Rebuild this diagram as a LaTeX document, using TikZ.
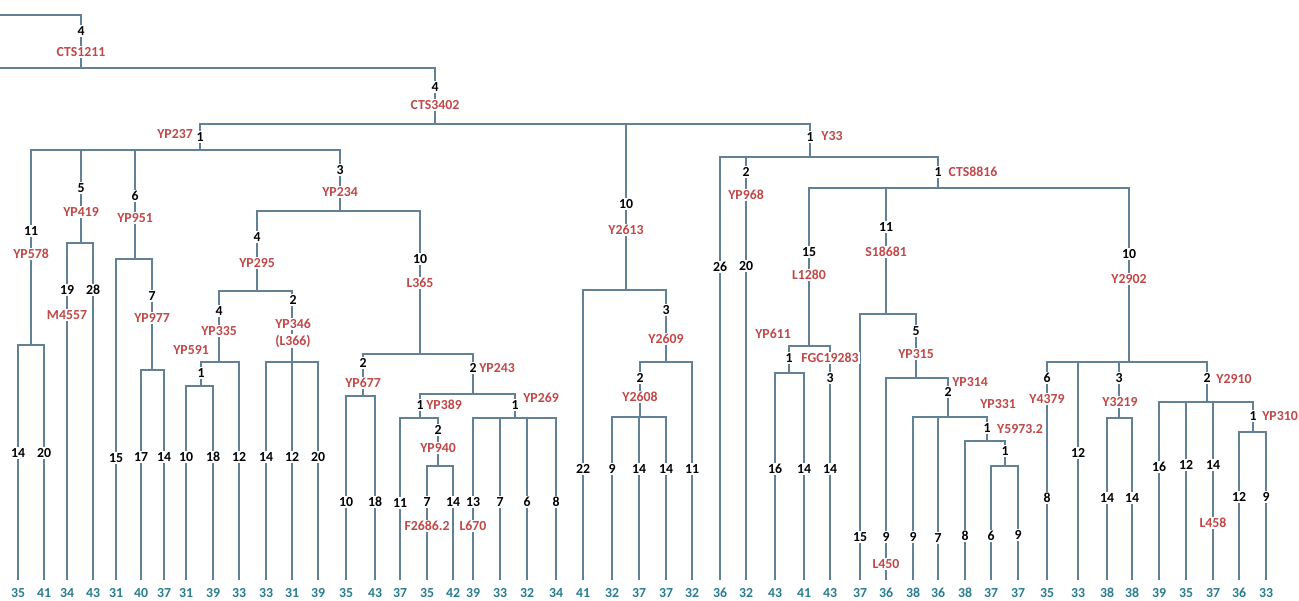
\documentclass[tikz,border=0pt]{standalone}
\usepackage{fontspec}
\setmainfont{Carlito}
\definecolor{branch}{RGB}{98,128,150}
\definecolor{snpred}{RGB}{192,72,72}
\definecolor{tipteal}{RGB}{40,125,145}
\begin{document}
\begin{tikzpicture}[x=1pt, y=-1pt, line width=1.5pt,
    num/.style={fill=white, inner sep=1.2pt, text=black, font=\bfseries\fontsize{13.8}{14}\selectfont},
    snp/.style={num, text=snpred},
    tip/.style={inner sep=0pt, text=tipteal, font=\bfseries\fontsize{13.8}{14}\selectfont}]
    \fill[white] (0,0) rectangle (1299,601);
    \useasboundingbox (0,0) rectangle (1299,601);
    % junctions
    \coordinate (top) at (0,15);
    \coordinate (cut) at (0,68);
    \coordinate (cts1211) at (81,68);
    \coordinate (cts3402) at (435,124);
    \coordinate (yp237) at (200,150);
    \coordinate (yp578) at (31,345);
    \coordinate (yp419) at (81,243);
    \coordinate (yp951) at (135,259);
    \coordinate (yp977) at (152,370);
    \coordinate (yp234) at (340,211);
    \coordinate (yp295) at (257,291);
    \coordinate (yp335) at (219,362);
    \coordinate (yp591) at (201,386);
    \coordinate (yp346) at (292,362);
    \coordinate (l365) at (420,354);
    \coordinate (yp677) at (363,396);
    \coordinate (yp243) at (473,394);
    \coordinate (yp389) at (420,418);
    \coordinate (yp940) at (438,466);
    \coordinate (yp269) at (515,418);
    \coordinate (y2613) at (626,290);
    \coordinate (y2609) at (666,362);
    \coordinate (y2608) at (640,417);
    \coordinate (y33) at (810,157);
    \coordinate (cts8816) at (938,188);
    \coordinate (l1280) at (809,346);
    \coordinate (yp611) at (789,373);
    \coordinate (s18681) at (886,314);
    \coordinate (yp315) at (916,378);
    \coordinate (yp314) at (948,417);
    \coordinate (yp331) at (987,441);
    \coordinate (y5973) at (1005,466);
    \coordinate (y2902) at (1129,362);
    \coordinate (y3219) at (1119,418);
    \coordinate (y2910) at (1207,402);
    \coordinate (yp310) at (1253,432);
    % tips
    \foreach \x/\h [count=\i] in {18/35, 44/41, 67/34, 93/43, 116/31, 141/40, 164/37, 186/31,
        213/39, 239/33, 266/33, 292/31, 318/39, 346/35, 375/43, 400/37, 427/35, 453/42, 473/39,
        500/33, 527/32, 556/34, 583/41, 612/32, 639/37, 666/37, 692/32, 720/36, 746/32, 775/43,
        804/41, 830/43, 860/37, 886/36, 913/38, 938/36, 965/38, 991/37, 1018/37, 1047/35,
        1078/33, 1107/38, 1132/38, 1159/39, 1186/35, 1213/37, 1239/36, 1266/33} {
        \coordinate (t\i) at (\x,580);
        \node[tip] (h\i) at (\x,593) {\h};
    }
    % branches
    \foreach \a/\b in {top/cts1211, cts1211/cut, cts1211/cts3402,
        cts3402/yp237, cts3402/y2613, cts3402/y33,
        yp237/yp578, yp237/yp419, yp237/yp951, yp237/yp234,
        yp578/t1, yp578/t2, yp419/t3, yp419/t4, yp951/t5, yp951/yp977, yp977/t6, yp977/t7,
        yp234/yp295, yp234/l365, yp295/yp335, yp295/yp346, yp335/yp591, yp335/t10,
        yp591/t8, yp591/t9, yp346/t11, yp346/t12, yp346/t13,
        l365/yp677, l365/yp243, yp677/t14, yp677/t15, yp243/yp389, yp243/yp269,
        yp389/t16, yp389/yp940, yp940/t17, yp940/t18,
        yp269/t19, yp269/t20, yp269/t21, yp269/t22,
        y2613/t23, y2613/y2609, y2609/y2608, y2609/t27, y2608/t24, y2608/t25, y2608/t26,
        y33/t28, y33/t29, y33/cts8816,
        cts8816/l1280, cts8816/s18681, cts8816/y2902,
        l1280/yp611, l1280/t32, yp611/t30, yp611/t31,
        s18681/t33, s18681/yp315, yp315/t34, yp315/yp314,
        yp314/t35, yp314/t36, yp314/yp331, yp331/t37, yp331/y5973, y5973/t38, y5973/t39,
        y2902/t40, y2902/t41, y2902/y3219, y2902/y2910, y3219/t42, y3219/t43,
        y2910/t44, y2910/t45, y2910/t46, y2910/yp310, yp310/t47, yp310/t48}
        \draw[branch] (\a) -| (\b);
    % counts on inner branches
    \foreach \x/\y/\t [count=\i] in {81/31/4, 435/87/4, 200/137/1, 31/231/11, 81/188/5,
        135/196/6, 340/170/3, 152/296/7, 257/237/4, 219/311/4, 201/373/1, 293/300/2,
        420/259/10, 363/363/2, 473/368/2, 420/405/1, 438/430/2, 515/405/1,
        626/204/10, 666/310/3, 640/378/2, 810/137/1, 746/172/2, 938/172/1,
        809/252/15, 789/358/1, 830/378/3, 886/227/11, 916/331/5, 948/392/2,
        987/428/1, 1005/451/1, 1129/254/10, 1047/378/6, 1119/378/3, 1207/378/2, 1253/416/1}
        \node[num] (n\i) at (\x,\y) {\t};
    % counts on tip branches
    \foreach \x/\y/\t [count=\i] in {18/453/14, 44/453/20, 67/290/19, 93/290/28, 116/458/15,
        141/457/17, 164/457/14, 186/457/10, 213/457/18, 239/457/12, 266/457/14, 292/457/12,
        318/457/20, 346/502/10, 375/502/18, 400/503/11, 427/502/7, 453/502/14, 473/502/13,
        500/502/7, 527/502/6, 556/502/8, 583/469/22, 612/469/9, 639/469/14, 666/469/14,
        692/469/11, 720/267/26, 746/266/20, 775/469/16, 804/469/14, 830/469/14,
        860/537/15, 886/537/9, 913/537/9, 938/538/7, 965/536/8, 991/536/6, 1018/535/9,
        1047/498/8, 1078/453/12, 1107/498/14, 1132/498/14, 1159/467/16, 1186/465/12,
        1213/465/14, 1239/497/12, 1266/497/9}
        \node[num] (b\i) at (\x,\y) {\t};
    % markers
    \foreach \x/\y/\t [count=\i] in {81/52/CTS1211, 435/105/CTS3402, 175/134/YP237,
        31/254/YP578, 81/212/YP419, 67/315/M4557, 135/218/YP951, 152/318/YP977,
        340/192/YP234, 257/263/YP295, 219/331/YP335, 191/350/YP591, 293/324/YP346,
        293/341/(L366), 420/283/L365, 363/383/YP677, 497/368/YP243, 444/405/YP389,
        541/398/YP269, 438/448/YP940, 427/526/F2686.2, 473/526/L670,
        626/230/Y2613, 666/339/Y2609, 640/397/Y2608, 832/136/Y33, 746/195/YP968,
        973/172/CTS8816, 809/275/L1280, 773/334/YP611, 830/358/FGC19283,
        886/252/S18681, 916/354/YP315, 886/564/L450, 970/382/YP314, 998/404/YP331,
        1020/429/Y5973.2, 1129/279/Y2902, 1047/399/Y4379, 1120/402/Y3219,
        1234/379/Y2910, 1280/416/YP310, 1213/523/L458}
        \node[snp] (s\i) at (\x,\y) {\t};
\end{tikzpicture}
\end{document}
